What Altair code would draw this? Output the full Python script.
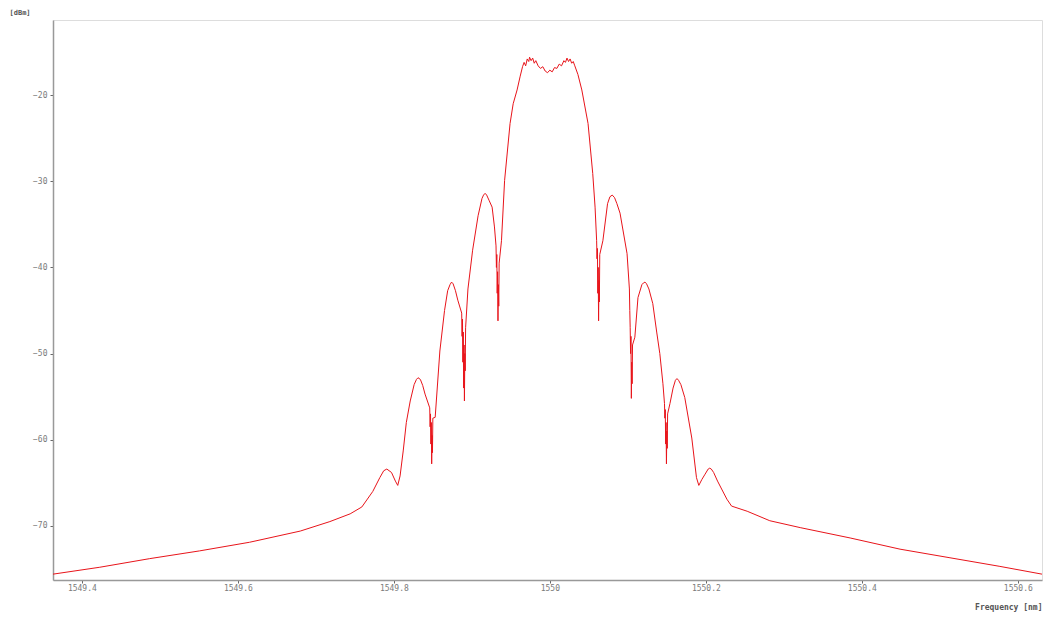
import altair as alt
import pandas as pd

# Wavelength (nm) and power (dBm)
freq_nm = [
    1549.363, 1549.423, 1549.487, 1549.551, 1549.615, 1549.680, 1549.718, 1549.744,
    1549.759, 1549.773, 1549.782, 1549.787, 1549.791, 1549.797, 1549.802, 1549.805,
    1549.808, 1549.812, 1549.816, 1549.821, 1549.826, 1549.829, 1549.831, 1549.834,
    1549.837, 1549.840, 1549.846,
    1549.8465, 1549.847, 1549.8475, 1549.848, 1549.8485, 1549.849, 1549.8495, 1549.850,
    1549.853, 1549.859, 1549.865, 1549.869, 1549.872, 1549.874, 1549.876, 1549.879,
    1549.882, 1549.887,
    1549.8875, 1549.888, 1549.8885, 1549.889, 1549.8895, 1549.890, 1549.8905, 1549.891,
    1549.8915, 1549.892,
    1549.895, 1549.901, 1549.908, 1549.913, 1549.915, 1549.917, 1549.919, 1549.922,
    1549.926, 1549.929, 1549.931,
    1549.9315, 1549.932, 1549.9325, 1549.933, 1549.9335, 1549.934, 1549.9345, 1549.935,
    1549.938, 1549.942, 1549.949, 1549.953, 1549.958, 1549.962, 1549.965,
    1549.967, 1549.969, 1549.971, 1549.973, 1549.974, 1549.976, 1549.978, 1549.980,
    1549.982, 1549.985, 1549.988, 1549.991, 1549.994, 1549.997, 1550.000, 1550.003,
    1550.006, 1550.009, 1550.012, 1550.015, 1550.018, 1550.020, 1550.022, 1550.024,
    1550.026, 1550.028, 1550.030, 1550.032,
    1550.036, 1550.041, 1550.049, 1550.055, 1550.058, 1550.060,
    1550.0605, 1550.061, 1550.0615, 1550.062, 1550.0625, 1550.063, 1550.0635, 1550.064,
    1550.068, 1550.074, 1550.077, 1550.080, 1550.083, 1550.086, 1550.090, 1550.099,
    1550.102,
    1550.1025, 1550.103, 1550.1035, 1550.104, 1550.1045, 1550.105, 1550.1055, 1550.106,
    1550.109, 1550.113, 1550.118, 1550.120, 1550.122, 1550.124, 1550.127, 1550.132,
    1550.137, 1550.141, 1550.145, 1550.147,
    1550.1475, 1550.148, 1550.1485, 1550.149, 1550.1495, 1550.150, 1550.1505, 1550.151,
    1550.154, 1550.158, 1550.161, 1550.163, 1550.165, 1550.168, 1550.173, 1550.182,
    1550.188, 1550.191, 1550.195, 1550.199, 1550.203, 1550.205, 1550.207, 1550.210,
    1550.215, 1550.227, 1550.233, 1550.253,
    1550.282, 1550.321, 1550.385, 1550.449, 1550.513, 1550.577, 1550.631,
]
power_dbm = [
    -75.6, -74.8, -73.8, -72.9, -71.9, -70.6, -69.5, -68.6,
    -67.8, -66.0, -64.4, -63.6, -63.4, -63.8, -64.8, -65.3,
    -64.2, -61.3, -58.0, -55.5, -53.6, -53.0, -52.8, -53.0,
    -53.7, -54.7, -56.3,
    -58.5, -57.0, -60.5, -58.0, -62.8, -59.5, -61.5, -57.5,
    -57.4, -49.7, -45.0, -42.7, -42.0, -41.7, -41.9, -42.7,
    -43.8, -45.3,
    -48.0, -46.0, -51.0, -47.5, -54.0, -49.0, -55.5, -50.0,
    -52.0, -47.0,
    -42.5, -38.0, -34.0, -32.0, -31.6, -31.4, -31.6, -32.2,
    -33.0, -35.3, -37.5,
    -40.0, -38.5, -43.0, -40.5, -46.2, -42.0, -44.5, -39.5,
    -36.9, -29.9, -23.3, -21.0, -19.4, -17.8, -16.7,
    -16.2, -16.6, -15.8, -16.1, -15.6, -16.0, -15.7, -16.3,
    -16.0, -16.6, -16.9, -16.7, -17.2, -17.4, -17.1, -17.3,
    -16.8, -16.9, -16.4, -16.6, -16.0, -16.2, -15.7, -16.1,
    -15.8, -16.3, -16.1, -16.6,
    -17.6, -19.4, -23.3, -29.1, -33.0, -36.9,
    -39.0, -37.8, -43.0, -40.0, -46.2, -41.5, -44.0, -38.5,
    -36.9, -32.6, -31.8, -31.6, -31.9, -32.6, -33.7, -38.4,
    -42.5,
    -45.0, -47.0, -50.0, -48.0, -55.2, -51.0, -53.5, -49.0,
    -48.1, -43.5, -42.0, -41.8, -41.7, -41.9, -42.5, -44.2,
    -47.5, -50.0, -53.5, -55.8,
    -57.5, -56.5, -60.5, -58.0, -62.8, -59.0, -61.0, -57.0,
    -55.8, -54.0, -53.1, -52.9, -53.1, -53.6, -55.1, -59.8,
    -64.4, -65.3, -64.6, -64.0, -63.4, -63.3, -63.4, -63.8,
    -64.8, -66.9, -67.7, -68.3,
    -69.4, -70.2, -71.4, -72.7, -73.7, -74.7, -75.6,
]

x_ticks = [1549.4, 1549.6, 1549.8, 1550.0, 1550.2, 1550.4, 1550.6]
y_ticks = [-70, -60, -50, -40, -30, -20]
x_domain = [1549.363, 1550.631]
y_domain = [-76.28, -11.28]

df = pd.DataFrame({"freq": freq_nm, "power": power_dbm, "order": list(range(len(freq_nm)))})

FONT = "DejaVu Sans Mono"
GRAY = "#7a7a7a"

chart = alt.Chart(df).mark_line(color="#e8141a", strokeWidth=1, clip=True).encode(
    x=alt.X(
        "freq:Q",
        scale=alt.Scale(domain=x_domain, nice=False, zero=False),
        axis=alt.Axis(
            values=x_ticks, format=".1~f", title="Frequency [nm]",
            titleX=989, titleY=27, titleAlign="right", titleBaseline="middle",
            titleFont=FONT, titleFontSize=8, titleFontWeight="bold", titleColor="#555",
            labelFont=FONT, labelFontSize=8, labelColor=GRAY, labelPadding=1,
            tickSize=3, tickColor="#666", domainColor="#999", domainWidth=1.5,
            grid=False, labelFlush=False,
        ),
    ),
    y=alt.Y(
        "power:Q",
        scale=alt.Scale(domain=y_domain, nice=False, zero=False),
        axis=alt.Axis(
            values=y_ticks, title="[dBm]", titleAngle=0,
            titleX=-44, titleY=-8, titleAlign="left", titleBaseline="middle",
            titleFont=FONT, titleFontSize=7, titleFontWeight="bold", titleColor="#555",
            labelFont=FONT, labelFontSize=8, labelColor=GRAY, labelPadding=3,
            tickSize=3, tickColor="#666", domainColor="#999", domainWidth=1.5,
            grid=False,
        ),
    ),
    order="order:Q",
).properties(
    width=989,
    height=560,
    autosize=alt.AutoSizeParams(type="none"),
    padding={"left": 45, "top": 12, "right": 2, "bottom": 40},
).configure_view(
    stroke="#999", strokeWidth=1.5
).configure(background="white")

chart.save("out.html", embed_options={"renderer": "svg", "actions": False})
